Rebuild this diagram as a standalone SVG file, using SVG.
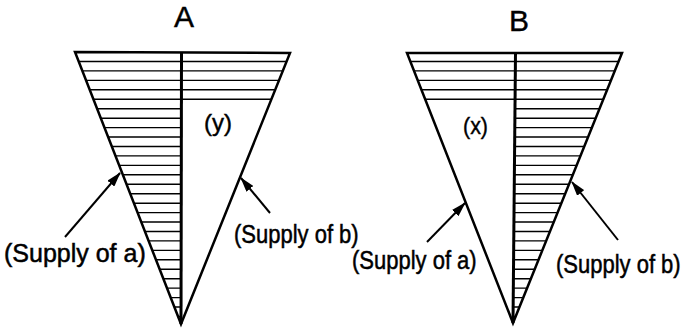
<svg xmlns="http://www.w3.org/2000/svg" width="686" height="330" viewBox="0 0 686 330">
<style>
.edge{fill:none;stroke:#000;stroke-width:2.5;stroke-linejoin:miter}
.mid{stroke:#000;stroke-width:3}
.hatch{stroke:#000;stroke-width:1.4;fill:none}
.lbl{font-family:"Liberation Sans",Arial,sans-serif;font-size:25px;fill:#000;stroke:#000;stroke-width:0.5}
.ttl{font-family:"Liberation Sans",Arial,sans-serif;font-size:30px;fill:#000;stroke:#000;stroke-width:0.4;text-anchor:middle}
.var{font-family:"Liberation Sans",Arial,sans-serif;font-size:24px;fill:#000;stroke:#000;stroke-width:0.4}
.arr{stroke:#000;stroke-width:2;fill:none;marker-end:url(#ah)}
</style>
<defs>
<marker id="ah" viewBox="0 0 15 9" refX="14" refY="4.5" markerWidth="15" markerHeight="9" markerUnits="userSpaceOnUse" orient="auto">
<path d="M0,0 L15,4.5 L0,9 Z" fill="#000"/>
</marker>
<clipPath id="clipA"><polygon points="75,52 290,52 181,324"/></clipPath>
<clipPath id="clipB"><polygon points="407,52 622,52 513,323"/></clipPath>
</defs>
<rect width="686" height="330" fill="#fff"/>

<g id="diagramA">
<text class="ttl" x="184" y="27">A</text>
<g clip-path="url(#clipA)" class="hatch">
<path d="M70,61.5H182M70,70.9H182M70,80.4H182M70,89.8H182M70,99.3H182M70,108.7H182M70,118.2H182M70,127.6H182M70,137H182M70,146.5H182M70,155.9H182M70,165.4H182M70,174.8H182M70,184.3H182M70,193.7H182M70,203.2H182M70,212.6H182M70,222H182M70,231.5H182M70,240.9H182M70,250.4H182M70,259.8H182M70,269.3H182M70,278.7H182M70,288.1H182M70,297.6H182M70,307H182M70,316.5H182"/>
<path d="M181,61.5H300M181,70.9H300M181,80.4H300M181,89.8H300M181,99.3H300"/>
</g>
<polygon class="edge" points="75,52 290,53 181,324"/>
<line class="mid" x1="181.5" y1="52" x2="181" y2="324"/>
<text class="var" x="204" y="131" textLength="28" lengthAdjust="spacingAndGlyphs">(y)</text>
</g>

<g id="diagramB">
<text class="ttl" x="519" y="31">B</text>
<g clip-path="url(#clipB)" class="hatch">
<path d="M400,61.5H516M400,70.9H516M400,80.4H516M400,89.8H516M400,99.3H516"/>
<path d="M514,61.5H630M514,70.9H630M514,80.4H630M514,89.8H630M514,99.3H630M514,108.7H630M514,118.2H630M514,127.6H630M514,137H630M514,146.5H630M514,155.9H630M514,165.4H630M514,174.8H630M514,184.3H630M514,193.7H630M514,203.2H630M514,212.6H630M514,222H630M514,231.5H630M514,240.9H630M514,250.4H630M514,259.8H630M514,269.3H630M514,278.7H630M514,288.1H630M514,297.6H630M514,307H630M514,316.5H630"/>
</g>
<polygon class="edge" points="407,53 622,53 513,323"/>
<line class="mid" x1="515.5" y1="53" x2="513" y2="323"/>
<text class="var" x="463" y="134" textLength="25" lengthAdjust="spacingAndGlyphs">(x)</text>
</g>

<g id="labels">
<text id="lblAa" class="lbl" transform="translate(4,262) scale(1.0,1)" x="0" y="0">(Supply of a)</text>
<text id="lblAb" class="lbl" transform="translate(234,243) scale(0.88,1)" x="0" y="0">(Supply of b)</text>
<text id="lblBa" class="lbl" transform="translate(352,269) scale(0.88,1)" x="0" y="0">(Supply of a)</text>
<text id="lblBb" class="lbl" transform="translate(556,273) scale(0.88,1)" x="0" y="0">(Supply of b)</text>
</g>

<g id="connectors">
<line class="arr" x1="65" y1="237" x2="120" y2="173"/>
<line class="arr" x1="270" y1="213" x2="241" y2="178"/>
<line class="arr" x1="427" y1="242" x2="465" y2="203"/>
<line class="arr" x1="618" y1="240" x2="572" y2="182"/>
</g>
</svg>
